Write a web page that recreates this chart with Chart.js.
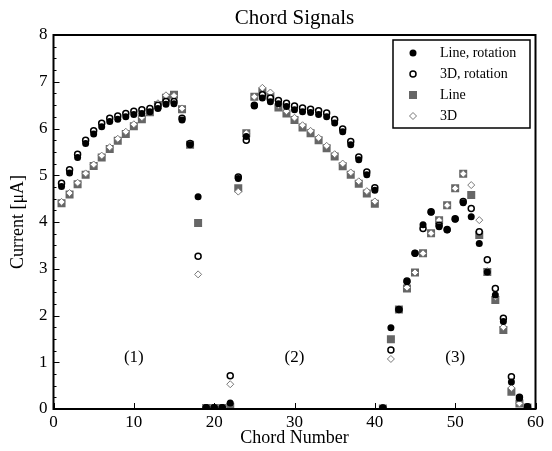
<!DOCTYPE html>
<html>
<head>
<meta charset="utf-8">
<script src="https://cdn.jsdelivr.net/npm/chart.js@4.4.0/dist/chart.umd.min.js"></script>
<style>
  body { margin: 0; background: #fff; }
  canvas { display: block; }
</style>
</head>
<body>
<canvas id="chart" width="552" height="451"></canvas>
<script>
const chords = [1, 2, 3, 4, 5, 6, 7, 8, 9, 10, 11, 12, 13, 14, 15, 16, 17, 18, 19, 20,
  21, 22, 23, 24, 25, 26, 27, 28, 29, 30, 31, 32, 33, 34, 35, 36, 37, 38, 39, 40,
  41, 42, 43, 44, 45, 46, 47, 48, 49, 50, 51, 52, 53, 54, 55, 56, 57, 58, 59];

// Line, rotation (filled black circles)
const lineRot = [4.76, 5.05, 5.38, 5.68, 5.88, 6.04, 6.15, 6.20, 6.25, 6.30, 6.32, 6.36, 6.43, 6.52, 6.53, 6.18, 5.65, 4.54, 0.03, 0.03,
  0.03, 0.13, 4.93, 5.83, 6.48, 6.65, 6.57, 6.53, 6.47, 6.40, 6.36, 6.34, 6.30, 6.25, 6.12, 5.93, 5.65, 5.33, 5.01, 4.68,
  0.02, 1.74, 2.13, 2.72, 3.33, 3.94, 4.21, 3.90, 3.83, 4.06, 4.41, 4.11, 3.54, 2.93, 2.44, 1.87, 0.58, 0.23, 0.05];

// 3D, rotation (open circles)
const d3Rot = [4.83, 5.12, 5.45, 5.75, 5.95, 6.11, 6.22, 6.27, 6.32, 6.37, 6.40, 6.43, 6.50, 6.58, 6.58, 6.22, 5.68, 3.27, 0.02, 0.02,
  0.02, 0.71, 4.96, 5.75, 6.50, 6.72, 6.65, 6.60, 6.54, 6.48, 6.44, 6.41, 6.38, 6.33, 6.19, 5.99, 5.72, 5.39, 5.07, 4.73,
  0.02, 1.26, 2.13, 2.74, 3.33, 3.86, 4.22, 3.93, 3.84, 4.07, 4.44, 4.29, 3.79, 3.19, 2.58, 1.94, 0.69, 0.25, 0.05];

// Line (grey squares)
const lineOnly = [4.40, 4.59, 4.81, 5.01, 5.20, 5.38, 5.56, 5.74, 5.88, 6.05, 6.20, 6.35, 6.50, 6.66, 6.72, 6.41, 5.65, 3.98, 0.02, 0.02,
  0.02, 0.05, 4.72, 5.90, 6.68, 6.79, 6.68, 6.45, 6.32, 6.18, 6.02, 5.90, 5.75, 5.58, 5.40, 5.19, 5.01, 4.82, 4.61, 4.39,
  0.01, 1.49, 2.13, 2.58, 2.92, 3.33, 3.76, 4.04, 4.36, 4.72, 5.03, 4.58, 3.72, 2.93, 2.33, 1.69, 0.37, 0.12, 0.03];

// 3D (open grey diamonds)
const d3Only = [4.43, 4.62, 4.84, 5.04, 5.23, 5.42, 5.60, 5.78, 5.93, 6.09, 6.24, 6.39, 6.54, 6.71, 6.70, 6.43, 5.66, 2.88, 0.02, 0.02,
  0.02, 0.53, 4.65, 5.90, 6.68, 6.87, 6.77, 6.50, 6.37, 6.23, 6.07, 5.95, 5.80, 5.63, 5.45, 5.25, 5.06, 4.87, 4.66, 4.44,
  0.01, 1.07, 2.13, 2.60, 2.92, 3.33, 3.76, 4.04, 4.36, 4.72, 5.03, 4.79, 4.04, 2.95, 2.40, 1.75, 0.45, 0.12, 0.03];

const xTicks = [0, 10, 20, 30, 40, 50, 60];
const yTicks = [0, 1, 2, 3, 4, 5, 6, 7, 8];
const regionLabels = ['(1)', '(2)', '(3)'];
const regionX = [10, 30, 50];
const regionY = 1.1;
const legendLabels = ['Line, rotation', '3D, rotation', 'Line', '3D'];

const serif = "'Liberation Serif', 'DejaVu Serif', serif";

function pts(vals) {
  return chords.map((c, i) => ({ x: c, y: vals[i] }));
}

// marker drawing, used for the hand made legend
function marker(ctx, kind, x, y) {
  ctx.beginPath();
  if (kind === 0) {
    ctx.arc(x, y, 3.5, 0, Math.PI * 2);
    ctx.fillStyle = '#000';
    ctx.fill();
  } else if (kind === 1) {
    ctx.arc(x, y, 3, 0, Math.PI * 2);
    ctx.fillStyle = '#fff';
    ctx.fill();
    ctx.lineWidth = 1.5;
    ctx.strokeStyle = '#000';
    ctx.stroke();
  } else if (kind === 2) {
    ctx.fillStyle = '#666';
    ctx.fillRect(x - 4, y - 4, 8, 8);
  } else {
    ctx.moveTo(x, y - 3.5);
    ctx.lineTo(x + 3.5, y);
    ctx.lineTo(x, y + 3.5);
    ctx.lineTo(x - 3.5, y);
    ctx.closePath();
    ctx.fillStyle = '#fff';
    ctx.fill();
    ctx.lineWidth = 1;
    ctx.strokeStyle = '#777';
    ctx.stroke();
  }
}

const decor = {
  id: 'decor',
  afterDatasetsDraw(chart) {
    const { ctx, chartArea: a, scales } = chart;
    const x = scales.x, y = scales.y;
    ctx.save();

    // inward ticks
    ctx.strokeStyle = '#000';
    ctx.lineWidth = 1;
    ctx.beginPath();
    xTicks.forEach(v => {
      const px = Math.round(x.getPixelForValue(v)) + 0.5;
      ctx.moveTo(px, a.bottom);
      ctx.lineTo(px, a.bottom - 6);
    });
    yTicks.forEach(v => {
      const py = Math.round(y.getPixelForValue(v)) + 0.5;
      ctx.moveTo(a.left, py);
      ctx.lineTo(a.left + 6, py);
    });
    for (let v = 0.25; v < 8; v += 0.25) {
      if (Math.abs(v - Math.round(v)) < 0.01) continue;
      const py = Math.round(y.getPixelForValue(v)) + 0.5;
      ctx.moveTo(a.left, py);
      ctx.lineTo(a.left + 3, py);
    }
    ctx.stroke();

    // frame
    ctx.lineWidth = 2;
    ctx.strokeRect(a.left, a.top, a.right - a.left, a.bottom - a.top);

    // title
    ctx.fillStyle = '#000';
    ctx.font = '21px ' + serif;
    ctx.textAlign = 'center';
    ctx.textBaseline = 'middle';
    ctx.fillText('Chord Signals', (a.left + a.right) / 2, 18);

    // region labels
    ctx.font = '17px ' + serif;
    regionLabels.forEach((t, i) => {
      ctx.fillText(t, x.getPixelForValue(regionX[i]), y.getPixelForValue(regionY));
    });

    // legend
    const lx = 393, ly = 40, lw = 137, lh = 88;
    ctx.fillStyle = '#fff';
    ctx.fillRect(lx, ly, lw, lh);
    ctx.lineWidth = 1.5;
    ctx.strokeStyle = '#000';
    ctx.strokeRect(lx, ly, lw, lh);
    const rows = [53, 74, 95, 116];
    legendLabels.forEach((t, i) => {
      marker(ctx, i, 413, rows[i]);
      ctx.fillStyle = '#000';
      ctx.font = '14px ' + serif;
      ctx.textAlign = 'left';
      ctx.textBaseline = 'middle';
      ctx.fillText(t, 440, rows[i]);
    });
    ctx.restore();
  }
};

// datasets listed top-most first: Chart.js paints index 0 last
const datasets = [
  { label: legendLabels[0], data: pts(lineRot), pointStyle: 'circle', pointRadius: 3.5,
    backgroundColor: '#000', borderColor: '#000', borderWidth: 0 },
  { label: legendLabels[1], data: pts(d3Rot), pointStyle: 'circle', pointRadius: 3,
    backgroundColor: '#fff', borderColor: '#000', borderWidth: 1.5 },
  { label: legendLabels[3], data: pts(d3Only), pointStyle: 'rectRot', pointRadius: 3.5,
    backgroundColor: '#fff', borderColor: '#777', borderWidth: 1 },
  { label: legendLabels[2], data: pts(lineOnly), pointStyle: 'rect', pointRadius: 5.66,
    backgroundColor: '#666', borderColor: '#666', borderWidth: 0 }
];

new Chart(document.getElementById('chart'), {
  type: 'scatter',
  data: { datasets: datasets },
  options: {
    responsive: false,
    animation: false,
    devicePixelRatio: 1,
    layout: { padding: { top: 35, right: 16.5, left: 0, bottom: 0 } },
    plugins: {
      legend: { display: false },
      tooltip: { enabled: false },
      title: { display: false }
    },
    scales: {
      x: {
        type: 'linear', min: 0, max: 60,
        grid: { display: false, drawTicks: false },
        border: { display: false },
        afterFit(s) { s.height = 42; },
        ticks: { stepSize: 10, padding: 3, color: '#000', font: { family: serif, size: 17 } },
        title: { display: true, text: 'Chord Number', color: '#000', padding: { top: 0, bottom: 2 },
          font: { family: serif, size: 18 } }
      },
      y: {
        type: 'linear', min: 0, max: 8,
        grid: { display: false, drawTicks: false },
        border: { display: false },
        afterFit(s) { s.width = 53.5; },
        ticks: { stepSize: 1, padding: 6, color: '#000', font: { family: serif, size: 17 } },
        title: { display: true, text: 'Current [μA]', color: '#000', padding: { top: 7, bottom: 0 },
          font: { family: serif, size: 18 } }
      }
    }
  },
  plugins: [decor]
});
</script>
</body>
</html>
